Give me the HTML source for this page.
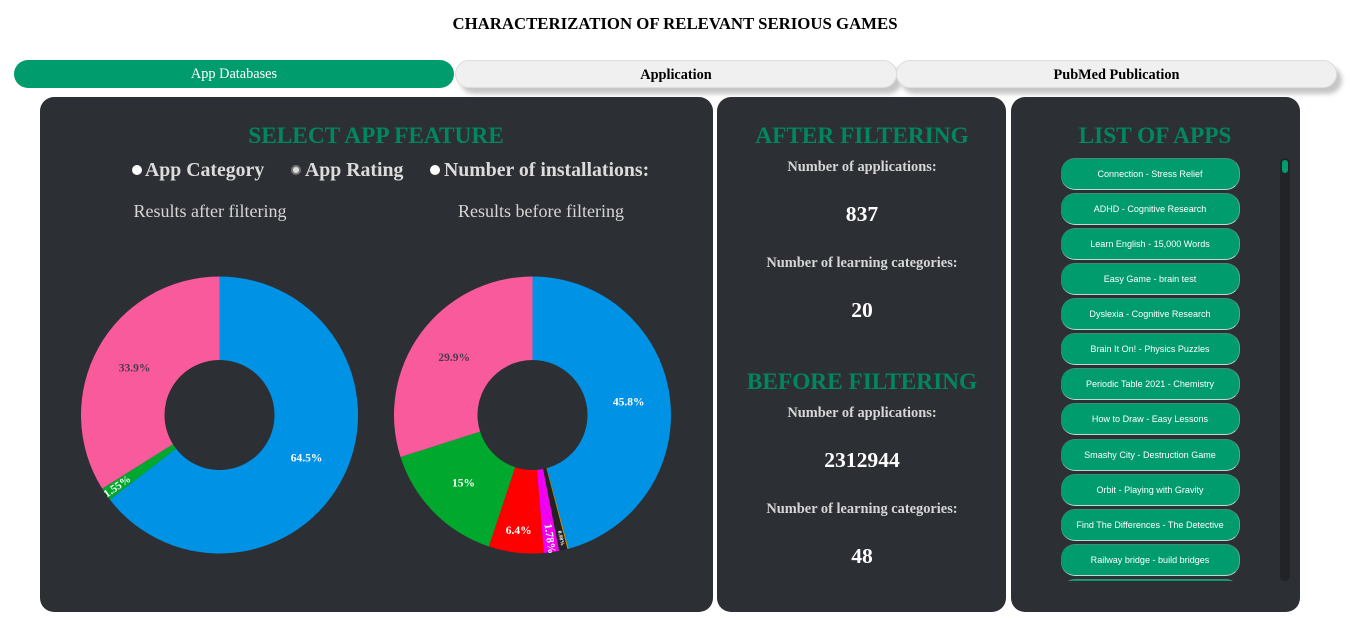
<!DOCTYPE html>
<html lang="en">
<head>
<meta charset="utf-8">
<title>Characterization of Relevant Serious Games</title>
<style>
html,body{margin:0;padding:0;background:#fff;}
body{width:1350px;height:620px;position:relative;overflow:hidden;font-family:"Liberation Serif",serif;}
.abs{position:absolute;}
.ctr{position:absolute;text-align:center;white-space:nowrap;transform:translateX(-50%);}
#page-title{left:675px;top:14px;font-size:16.8px;font-weight:bold;color:#000;line-height:20px;}
.tab{position:absolute;top:60px;height:28px;box-sizing:border-box;border-radius:14px;text-align:center;font-size:14.3px;line-height:29px;cursor:pointer;}
.tab.on{background:#009c6e;color:#fff;}
.tab.off{background:#f0f0f0;color:#000;font-weight:bold;border:1px solid #ddd;line-height:28px;box-shadow:5px 6px 5px #c6c6c6;}
.panel{position:absolute;top:97px;height:515px;background:#2c2f33;border-radius:14px;}
.hdr{color:#00875f;font-weight:bold;font-size:23.3px;line-height:28px;}
.radio-dot{position:absolute;top:165px;width:10px;height:10px;border-radius:50%;background:#fff;box-sizing:border-box;}
.radio-label{position:absolute;top:158px;color:#dcdcdc;font-weight:bold;font-size:19.8px;line-height:24px;white-space:nowrap;}
.sub{color:#d6d6d6;font-size:18px;line-height:22px;}
.stat-label{color:#d6d6d6;font-weight:bold;font-size:14.4px;line-height:18px;}
.stat-value{color:#fff;font-weight:bold;font-size:21.6px;line-height:26px;}
#pies{position:absolute;left:0;top:0;}
#list-clip{position:absolute;left:1061px;top:158px;width:180px;height:423px;overflow:hidden;}
.app{position:absolute;left:0;width:179px;height:32px;box-sizing:border-box;background:#009c6e;border-radius:14px;border-top:1px solid #3f8f78;border-bottom:1px solid #bcdcd0;border-right:1px solid #5aa78e;color:#fff;font-family:"Liberation Sans",sans-serif;font-size:9.05px;line-height:30px;text-align:center;white-space:nowrap;cursor:pointer;}
#scroll-track{position:absolute;left:1280px;top:158px;width:10px;height:423px;background:#212326;border-radius:5px;}
#scroll-thumb{position:absolute;left:2px;top:2px;width:6px;height:13px;background:#009c6e;border-radius:3px;}
</style>
</head>
<body>
<div id="page-title" class="ctr">CHARACTERIZATION OF RELEVANT SERIOUS GAMES</div>

<div class="tab on" style="left:14px;width:440px">App Databases</div>
<div class="tab off" style="left:455px;width:442px">Application</div>
<div class="tab off" style="left:896px;width:441px">PubMed Publication</div>

<div class="panel" style="left:40px;width:673px"></div>
<div class="panel" style="left:717px;width:289px"></div>
<div class="panel" style="left:1011px;width:289px"></div>

<div class="ctr hdr" style="left:376px;top:122px">SELECT APP FEATURE</div>
<div class="radio-dot" style="left:132px"></div>
<div class="radio-label" style="left:145px">App Category</div>
<div class="radio-dot" style="left:291px;background:#ddd;border:2px solid #777"></div>
<div class="radio-label" style="left:305px">App Rating</div>
<div class="radio-dot" style="left:430px"></div>
<div class="radio-label" style="left:444px">Number of installations:</div>
<div class="ctr sub" style="left:210px;top:200px">Results after filtering</div>
<div class="ctr sub" style="left:541px;top:200px">Results before filtering</div>

<svg id="pies" width="1350" height="620" viewBox="0 0 1350 620"></svg>

<div class="ctr hdr" style="left:862px;top:122px">AFTER FILTERING</div>
<div class="ctr stat-label" style="left:862px;top:158px">Number of applications:</div>
<div class="ctr stat-value" style="left:862px;top:201px">837</div>
<div class="ctr stat-label" style="left:862px;top:254px">Number of learning categories:</div>
<div class="ctr stat-value" style="left:862px;top:297px">20</div>
<div class="ctr hdr" style="left:862px;top:368px">BEFORE FILTERING</div>
<div class="ctr stat-label" style="left:862px;top:404px">Number of applications:</div>
<div class="ctr stat-value" style="left:862px;top:447px">2312944</div>
<div class="ctr stat-label" style="left:862px;top:500px">Number of learning categories:</div>
<div class="ctr stat-value" style="left:862px;top:543px">48</div>

<div class="ctr hdr" style="left:1155px;top:122px">LIST OF APPS</div>
<div id="list-clip">
<div class="app" style="top:0">Connection - Stress Relief</div>
<div class="app" style="top:35px">ADHD - Cognitive Research</div>
<div class="app" style="top:70px">Learn English - 15,000 Words</div>
<div class="app" style="top:105px">Easy Game - brain test</div>
<div class="app" style="top:140px">Dyslexia - Cognitive Research</div>
<div class="app" style="top:175px">Brain It On! - Physics Puzzles</div>
<div class="app" style="top:210px">Periodic Table 2021 - Chemistry</div>
<div class="app" style="top:245px">How to Draw - Easy Lessons</div>
<div class="app" style="top:281px">Smashy City - Destruction Game</div>
<div class="app" style="top:316px">Orbit - Playing with Gravity</div>
<div class="app" style="top:351px">Find The Differences - The Detective</div>
<div class="app" style="top:386px">Railway bridge - build bridges</div>
<div class="app" style="top:421px"></div>
</div>
<div id="scroll-track"><div id="scroll-thumb"></div></div>

<script>
const afterValues = [64.5, 1.55, 33.9];
const afterColors = ['#0092e4', '#00a82d', '#f95a9b'];
const beforeValues = [45.8, 0.14, 0.98, 1.78, 6.4, 15, 29.9];
const beforeColors = ['#0092e4', '#e08a00', '#222222', '#f000f0', '#ff0000', '#00a82d', '#f95a9b'];

const SVG_NS = 'http://www.w3.org/2000/svg';
const OUTER = 138.5, INNER = 55, CY = 415;
const svg = document.getElementById('pies');

function polar(cx, deg, r) {
  const a = deg * Math.PI / 180;
  return [cx + r * Math.sin(a), CY - r * Math.cos(a)];
}
function slicePath(cx, a0, a1) {
  const large = a1 - a0 > 180 ? 1 : 0;
  const p0 = polar(cx, a0, OUTER), p1 = polar(cx, a1, OUTER);
  const p2 = polar(cx, a1, INNER), p3 = polar(cx, a0, INNER);
  return 'M' + p0[0] + ' ' + p0[1] + 'A' + OUTER + ' ' + OUTER + ' 0 ' + large + ' 1 ' + p1[0] + ' ' + p1[1] +
    'L' + p2[0] + ' ' + p2[1] + 'A' + INNER + ' ' + INNER + ' 0 ' + large + ' 0 ' + p3[0] + ' ' + p3[1] + 'Z';
}
function labelRadius(share) {
  if (share < 1.2) return 126;
  if (share < 2) return 124.5;
  if (share < 10) return 116.5;
  return 97;
}
function labelSize(share) {
  if (share < 1.2) return 5.5;
  if (share < 2) return 11;
  return 11.5;
}
function drawDonut(cx, values, colors, prefix) {
  const total = values.reduce(function (s, v) { return s + v; }, 0);
  let cum = 0;
  values.forEach(function (v, i) {
    const a0 = cum / total * 360;
    cum += v;
    const a1 = cum / total * 360;
    const path = document.createElementNS(SVG_NS, 'path');
    path.setAttribute('d', slicePath(cx, a0, a1));
    path.setAttribute('fill', colors[i]);
    
    
    svg.appendChild(path);
    if (v < 0.5) return;
    const mid = (a0 + a1) / 2;
    const pos = polar(cx, mid, labelRadius(v));
    const text = document.createElementNS(SVG_NS, 'text');
    text.textContent = v + '%';
    text.setAttribute('x', pos[0]);
    text.setAttribute('y', pos[1] + 0.5);
    text.setAttribute('text-anchor', 'middle');
    text.setAttribute('dominant-baseline', 'central');
    text.setAttribute('font-family', '"Liberation Serif", serif');
    text.setAttribute('font-weight', 'bold');
    text.setAttribute('font-size', labelSize(v));
    text.setAttribute('fill', colors[i] === '#f95a9b' ? '#4a3a50' : '#ffffff');
    if (v < 2) {
      const rot = mid > 180 ? mid - 270 : mid - 90;
      text.setAttribute('transform', 'rotate(' + rot + ' ' + pos[0] + ' ' + (pos[1] + 0.5) + ')');
    }
    
    
    svg.appendChild(text);
  });
}
drawDonut(219.5, afterValues, afterColors, 'after-filtering');
drawDonut(532.5, beforeValues, beforeColors, 'before-filtering');
</script>
</body>
</html>
